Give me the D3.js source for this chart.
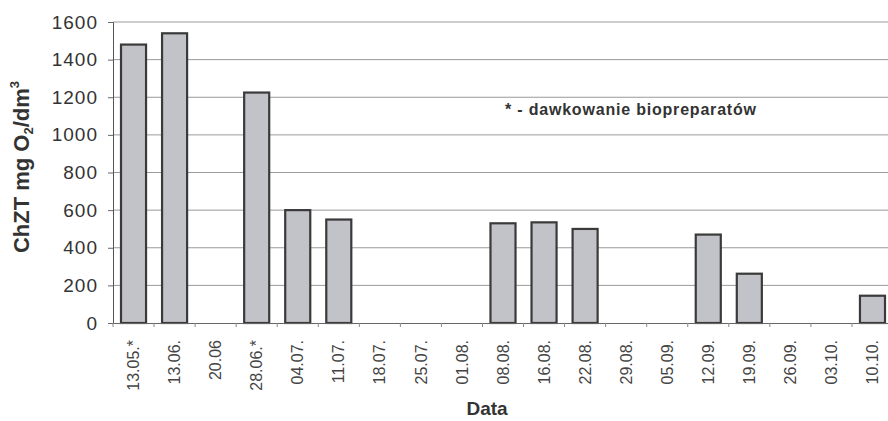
<!DOCTYPE html>
<html>
<head>
<meta charset="utf-8">
<script src="https://cdn.jsdelivr.net/npm/d3@7"></script>
<style>
  html, body { margin: 0; padding: 0; background: #fff; }
  svg { display: block; font-family: "Liberation Sans", Arial, sans-serif; }
</style>
</head>
<body>
<svg id="chart" width="888" height="421"></svg>
<script>
// Sampling dates (asterisk marks dosing of biopreparations)
const categories = ["13.05.*", "13.06.", "20.06", "28.06.*", "04.07.", "11.07.", "18.07.", "25.07.",
  "01.08.", "08.08.", "16.08.", "22.08.", "29.08.", "05.09.", "12.09.", "19.09.", "26.09.", "03.10.", "10.10."];
// COD (ChZT) in mg O2/dm3; null = no measurement
const codValues = [1480, 1540, null, 1225, 600, 550, null, null, null, 530, 535, 500, null, null, 470, 262, null, null, 145];
const yTicks = [0, 200, 400, 600, 800, 1000, 1200, 1400, 1600];

const svg = d3.select("#chart");
const plotLeft = 113, plotRight = 893, plotTop = 22, plotBottom = 323;

const x = d3.scaleBand().domain(categories).range([plotLeft, plotRight]).paddingInner(0.39).paddingOuter(0.195);
const y = d3.scaleLinear().domain([0, 1600]).range([plotBottom, plotTop]);

// horizontal gridlines
svg.append("g").selectAll("line").data(yTicks.filter(d => d > 0)).join("line")
  .attr("x1", plotLeft).attr("x2", 888)
  .attr("y1", d => y(d)).attr("y2", d => y(d))
  .attr("stroke", "#9a9a9a").attr("stroke-width", 1);

// bars
svg.append("g").selectAll("rect").data(categories.map((c, i) => ({ c, v: codValues[i] })).filter(d => d.v != null))
  .join("rect")
  .attr("x", d => x(d.c))
  .attr("y", d => y(d.v))
  .attr("width", x.bandwidth())
  .attr("height", d => y(0) - y(d.v))
  .attr("fill", "#c2c2c9")
  .attr("stroke", "#3a3a3a")
  .attr("stroke-width", 2.2);

// y axis
const yAxis = d3.axisLeft(y).tickValues(yTicks).tickFormat(d3.format("d")).tickSize(5).tickPadding(10);
const gy = svg.append("g").attr("transform", `translate(${plotLeft},0)`).call(yAxis);
gy.select(".domain").attr("stroke", "#555");
gy.selectAll(".tick line").attr("stroke", "#666");
gy.selectAll(".tick text").attr("font-size", 19).attr("fill", "#333")
  .attr("letter-spacing", 1).attr("font-family", "Liberation Sans, Arial, sans-serif");

// x axis
const xAxis = d3.axisBottom(x).tickSize(0).tickPadding(0);
const gx = svg.append("g").attr("transform", `translate(0,${plotBottom})`).call(xAxis);
gx.select(".domain").attr("stroke", "#666");
gx.selectAll(".tick text")
  .attr("font-size", 16).attr("fill", "#444").attr("font-family", "Liberation Sans, Arial, sans-serif")
  .attr("text-anchor", "end")
  .attr("dy", "0.35em")
  .attr("transform", "translate(0,17) rotate(-90)")
  .attr("x", 0).attr("y", 0);

// small separators between categories below the axis
const step = x.step();
svg.append("g").selectAll("line").data(categories).join("line")
  .attr("x1", d => x(d) + x.bandwidth() / 2 - step / 2)
  .attr("x2", d => x(d) + x.bandwidth() / 2 - step / 2)
  .attr("y1", plotBottom).attr("y2", plotBottom + 4)
  .attr("stroke", "#888");

// axis titles
const yTitle = svg.append("text")
  .attr("transform", "translate(29,167) rotate(-90)")
  .attr("text-anchor", "middle")
  .attr("font-size", 22).attr("font-weight", "bold").attr("fill", "#333");
yTitle.append("tspan").text("ChZT mg O");
yTitle.append("tspan").attr("font-size", 13).attr("dy", 4).text("2");
yTitle.append("tspan").attr("dy", -4).text("/dm");
yTitle.append("tspan").attr("font-size", 13).attr("dy", -10).text("3");

svg.append("text")
  .attr("x", 487).attr("y", 415)
  .attr("text-anchor", "middle")
  .attr("font-size", 19).attr("font-weight", "bold").attr("fill", "#333")
  .text("Data");

// legend note
svg.append("text")
  .attr("x", 505).attr("y", 115)
  .attr("font-size", 16).attr("font-weight", "bold").attr("fill", "#333")
  .attr("letter-spacing", 0.8)
  .text("* - dawkowanie biopreparatów");
</script>
</body>
</html>
